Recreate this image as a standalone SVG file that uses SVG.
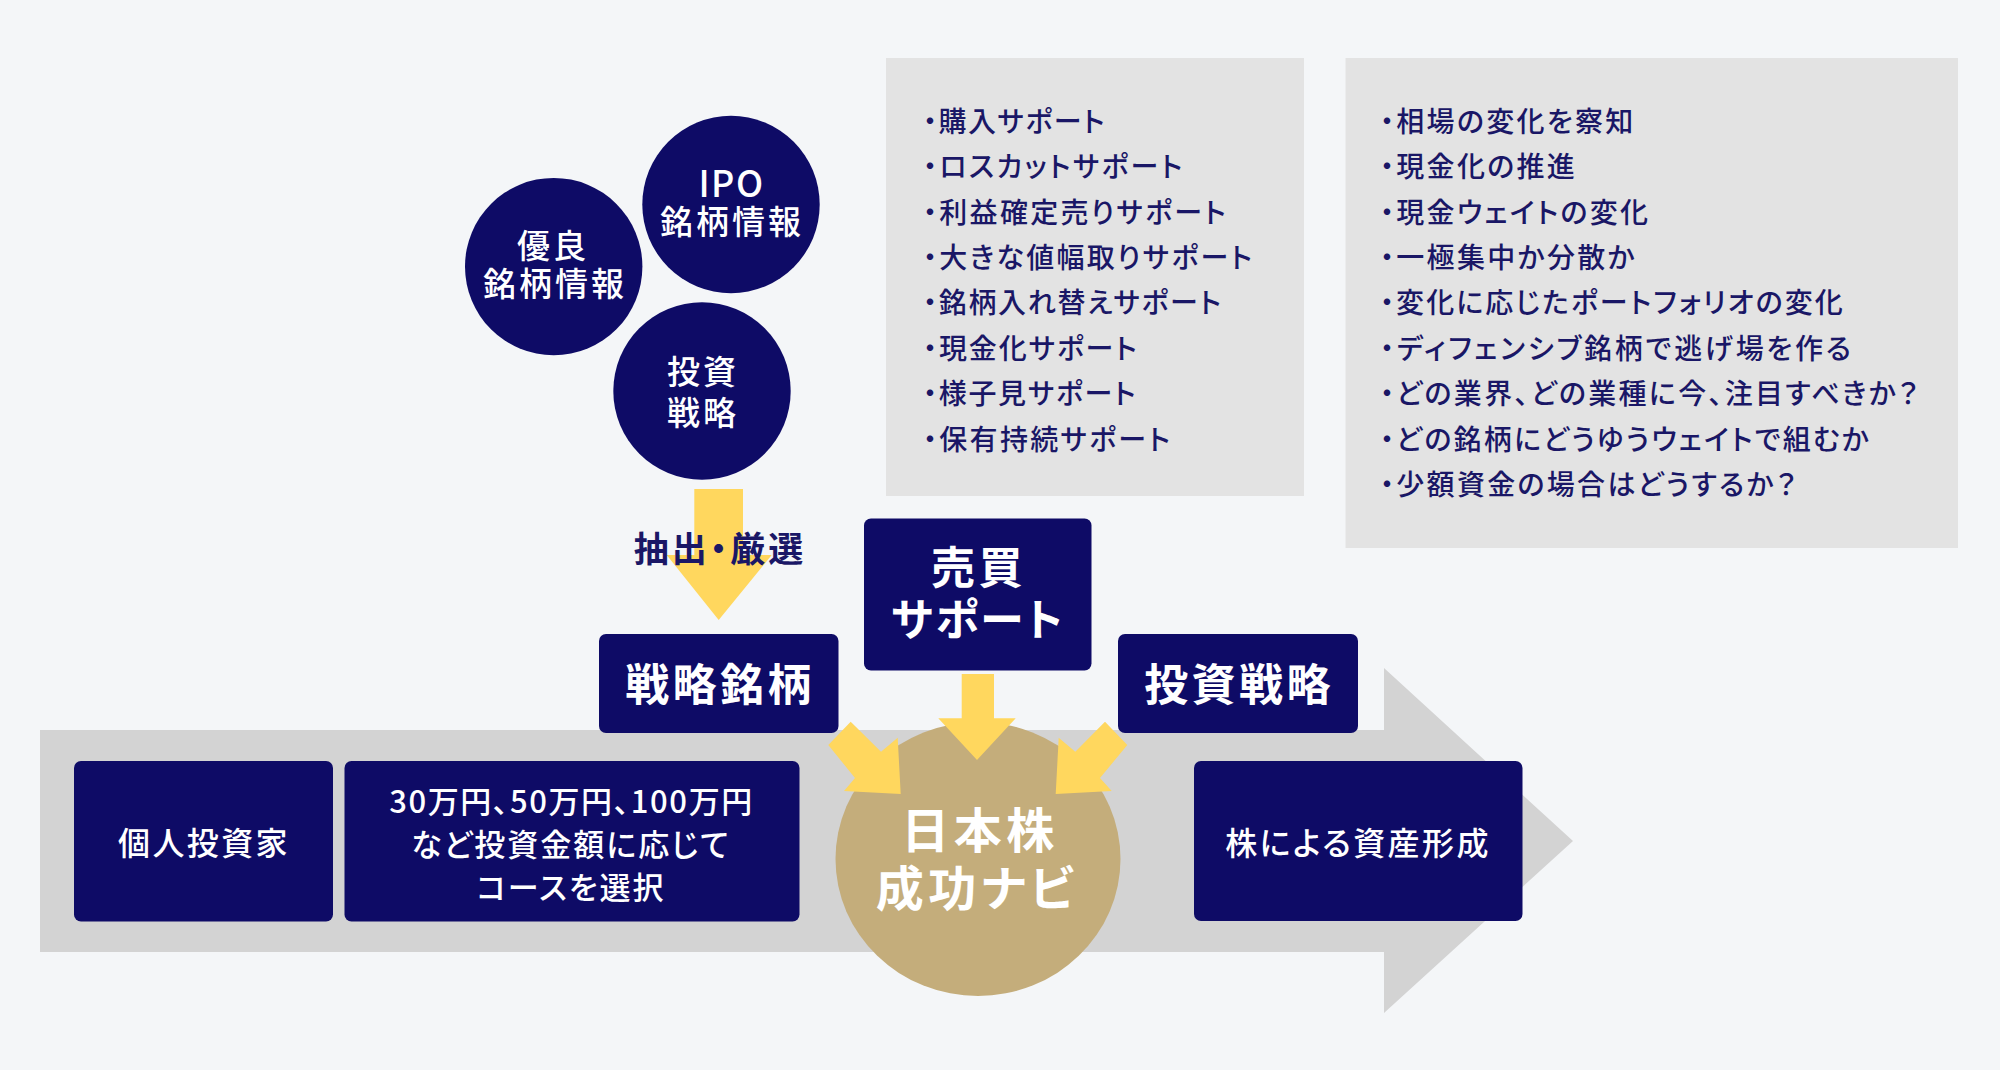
<svg xmlns="http://www.w3.org/2000/svg" width="2000" height="1070" viewBox="0 0 2000 1070">
<style>
text{font-family:"Noto Sans CJK JP","Noto Sans",sans-serif;font-weight:500;font-feature-settings:"palt";text-anchor:middle;fill:#fff}
.navy{fill:#0e0b66}
.panel{fill:#e3e3e3}
.flow{fill:#ffd75e}
.li{fill:#1a1766;font-size:28px;letter-spacing:2.3px;text-anchor:start;font-weight:500}
.c{font-size:33px;letter-spacing:3px;font-weight:500}
.m{font-size:32px;letter-spacing:2.4px}
.n{font-size:31px;letter-spacing:2px}
.h{font-size:44px;letter-spacing:3.4px;font-weight:700}
.g{font-size:48px;letter-spacing:4.5px;font-weight:700}
</style>
<rect width="2000" height="1070" fill="#f4f6f8"/>
<path id="flow-arrow" d="M40 730H1384V668L1573 841L1384 1013V952H40Z" fill="#d3d3d3"/>
<g id="panel-support"><rect class="panel" x="886" y="58" width="418" height="438"/>
<text class="li" x="923" y="132" style="letter-spacing:1.5px">・購入サポート</text>
<text class="li" x="923" y="177">・ロスカットサポート</text>
<text class="li" x="923" y="222.500">・利益確定売りサポート</text>
<text class="li" x="923" y="268">・大きな値幅取りサポート</text>
<text class="li" x="923" y="313" style="letter-spacing:1.7px">・銘柄入れ替えサポート</text>
<text class="li" x="923" y="358.500" style="letter-spacing:1.9px">・現金化サポート</text>
<text class="li" x="923" y="404" style="letter-spacing:1.700px">・様子見サポート</text>
<text class="li" x="923" y="449.500">・保有持続サポート</text></g>
<g id="panel-strategy"><rect class="panel" x="1345.500" y="58" width="612.500" height="490"/>
<text class="li" x="1380" y="132">・相場の変化を察知</text>
<text class="li" x="1380" y="177">・現金化の推進</text>
<text class="li" x="1380" y="222.500">・現金ウェイトの変化</text>
<text class="li" x="1380" y="268">・一極集中か分散か</text>
<text class="li" x="1380" y="313" style="letter-spacing:2.100px">・変化に応じたポートフォリオの変化</text>
<text class="li" x="1380" y="358.500" style="letter-spacing:2.800px">・ディフェンシブ銘柄で逃げ場を作る</text>
<text class="li" x="1380" y="404">・どの業界、どの業種に今、注目すべきか？</text>
<text class="li" x="1380" y="449.500" style="letter-spacing:2.200px">・どの銘柄にどうゆうウェイトで組むか</text>
<text class="li" x="1380" y="495">・少額資金の場合はどうするか？</text></g>
<g id="node-ipo"><circle class="navy" cx="731" cy="204.500" r="88.700"/><text x="731.500" y="197" style="font-size:36px;letter-spacing:1.500px">IPO</text><text class="c" x="732" y="234">銘柄情報</text></g>
<g id="node-yuryo"><circle class="navy" cx="553.700" cy="266.600" r="88.700"/><text class="c" x="553" y="258">優良</text><text class="c" x="555" y="296">銘柄情報</text></g>
<g id="node-toshi"><circle class="navy" cx="702" cy="391" r="88.700"/><text class="c" x="703" y="384">投資</text><text class="c" x="703" y="425">戦略</text></g>
<g id="node-navi"><ellipse cx="978" cy="859" rx="142.500" ry="137" fill="#c4ad7b"/><text class="g" x="980" y="848">日本株</text><text class="g" x="977" y="906">成功ナビ</text></g>
<g id="connectors">
<path class="flow" d="M694.300 489H743V555H771.700L718.700 620L666.700 555H694.300Z"/>
<path class="flow" d="M961.700 674H994V718.300H1015.700L977 760L938.300 718.300H961.700Z"/>
<path class="flow" d="M850.700 721.700L881 751.700L897.700 737.700L900.700 794L844 791L855 778L828.300 745Z"/>
<path class="flow" d="M1105 721.700L1075.300 751.700L1058.700 737.700L1055.700 794L1111.700 791L1100 778L1127.300 745Z"/>
</g>
<text id="label-extract" x="720" y="561.500" style="fill:#1a1766;font-size:35px;font-weight:700;letter-spacing:3px">抽出・厳選</text>
<g id="node-meigara"><rect class="navy" x="599" y="634" width="239.500" height="99" rx="7"/><text class="h" x="720" y="701">戦略銘柄</text></g>
<g id="node-baibai"><rect class="navy" x="864" y="518.500" width="227.500" height="152" rx="7"/><text class="h" x="978.500" y="584">売買</text><text class="h" x="978" y="636" style="letter-spacing:2.500px">サポート</text></g>
<g id="node-senryaku"><rect class="navy" x="1118" y="634" width="240" height="99" rx="7"/><text class="h" x="1239" y="701">投資戦略</text></g>
<g id="node-kojin"><rect class="navy" x="74" y="761" width="259" height="160.500" rx="7"/><text class="m" x="204" y="855">個人投資家</text></g>
<g id="node-course"><rect class="navy" x="344.500" y="761" width="455" height="160.500" rx="7"/><text class="n" x="571.500" y="813" style="letter-spacing:1.600px">30万円、50万円、100万円</text><text class="n" x="571" y="856">など投資金額に応じて</text><text class="n" x="571" y="899">コースを選択</text></g>
<g id="node-asset"><rect class="navy" x="1194" y="761" width="328.500" height="160" rx="7"/><text class="m" x="1358" y="855">株による資産形成</text></g>
</svg>
